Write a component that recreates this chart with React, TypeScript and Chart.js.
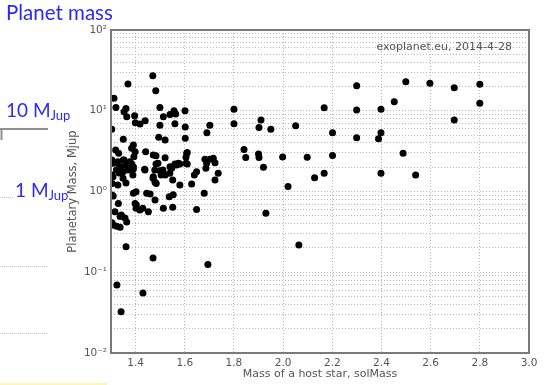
import React, { useEffect, useRef } from "react";
import { Chart, registerables } from "chart.js";

Chart.register(...registerables);

const starMass: number[] = [
  1.369, 1.470, 1.482, 1.312, 1.320, 1.361, 1.353, 1.364, 1.303, 1.396,
  1.399, 1.418, 1.439, 1.499, 1.513, 1.540, 1.556, 1.563, 1.499, 1.560,
  1.601, 1.602, 1.602, 1.350, 1.391, 1.494, 1.520, 1.319, 1.331, 1.384,
  1.398, 1.393, 1.353, 1.441, 1.472, 1.483, 1.520, 1.610, 1.605, 1.483,
  1.384, 1.391, 1.540, 1.560, 1.574, 1.580, 1.610, 1.304, 1.333, 1.682,
  1.702, 1.716, 1.723, 1.800, 1.800, 1.702, 1.690, 1.841, 1.848, 1.900,
  1.902, 1.920, 1.910, 1.902, 1.950, 2.051, 1.998, 2.299, 2.499, 2.597,
  2.696, 2.800, 2.800, 2.452, 2.167, 2.299, 2.398, 2.696, 2.201, 2.299,
  2.388, 2.398, 2.488, 2.098, 2.201, 2.128, 2.167, 2.398, 2.539, 2.020,
  1.930, 2.064, 1.694, 1.471, 1.361, 1.324, 1.341, 1.430, 1.689, 1.686,
  1.736, 1.723, 1.679, 1.648, 1.639, 1.648, 1.628, 1.605, 1.608, 1.580,
  1.567, 1.547, 1.551, 1.551, 1.513, 1.537, 1.553, 1.520, 1.506, 1.499,
  1.472, 1.479, 1.438, 1.391, 1.381, 1.377, 1.350, 1.305, 1.303, 1.309,
  1.330, 1.316, 1.337, 1.357, 1.364, 1.309, 1.323, 1.337, 1.304, 1.391,
  1.402, 1.398, 1.402, 1.429, 1.452, 1.445, 1.459, 1.479, 1.403, 1.417,
  1.308, 1.328, 1.342, 1.322, 1.349, 1.308, 1.349, 1.362, 1.389, 1.437,
  1.491, 1.478, 1.504, 1.471, 1.484, 1.539, 1.511, 1.328, 1.361, 1.333,
  1.369, 1.304, 1.342,
];

const planetMass: number[] = [
  21.4, 27.2, 17.7, 14.3, 11.0, 10.7, 9.7, 8.4, 5.9, 8.7,
  7.1, 6.85, 7.5, 11.0, 8.4, 9.0, 10.0, 9.1, 6.6, 6.9,
  10.0, 6.3, 4.56, 4.43, 3.77, 4.69, 4.34, 3.27, 2.97, 3.43,
  3.11, 2.70, 2.45, 3.11, 2.83, 2.78, 2.62, 3.05, 2.65, 2.19,
  2.19, 2.03, 2.03, 2.19, 2.23, 2.19, 2.19, 2.45, 2.0, 2.5,
  2.5, 2.58, 2.27, 10.4, 6.9, 6.6, 5.35, 3.31, 2.64, 2.91,
  2.64, 2.0, 7.7, 6.2, 5.9, 6.5, 2.67, 20.4, 22.9, 21.9,
  19.3, 21.3, 12.4, 12.9, 10.9, 10.2, 10.4, 7.7, 5.35, 4.64,
  4.51, 5.35, 2.97, 2.65, 2.79, 1.48, 1.68, 1.68, 1.60, 1.15,
  0.537, 0.217, 0.125, 0.150, 0.207, 0.0695, 0.0325, 0.0553, 2.23, 1.94,
  1.68, 1.39, 0.95, 0.60, 1.60, 1.76, 1.24, 2.23, 2.97, 1.20,
  2.13, 1.94, 1.39, 0.64, 0.62, 0.86, 0.91, 1.60, 1.68, 1.81,
  1.52, 1.30, 1.85, 1.90, 2.13, 2.34, 2.45, 1.26, 1.60, 0.88,
  0.71, 0.56, 0.49, 0.47, 0.42, 0.385, 0.37, 0.36, 0.41, 0.95,
  0.99, 0.71, 0.62, 0.62, 0.56, 0.95, 0.93, 0.785, 0.68, 0.59,
  2.23, 2.34, 2.03, 1.85, 1.76, 1.52, 1.46, 2.13, 1.60, 1.88,
  2.23, 1.85, 1.60, 1.46, 1.26, 1.68, 1.85, 1.20, 1.27, 1.69,
  1.85, 0.905, 0.51,
];

const xTickValues: number[] = [1.4, 1.6, 1.8, 2.0, 2.2, 2.4, 2.6, 2.8, 3.0];
const yDecades: number[] = [-2, -1, 0, 1, 2];
const supers: Record<string, string> = { "-": "⁻", "0": "⁰", "1": "¹", "2": "²" };

const xTitle = "Mass of a host star, solMass";
const yTitle = "Planetary Mass, Mjup";
const sourceNote = "exoplanet.eu, 2014-4-28";
const slideTitle = "Planet mass";

const overlay = {
  id: "overlay",
  afterDraw(chart: any) {
    const ctx = chart.ctx as CanvasRenderingContext2D;
    const a = chart.chartArea;
    ctx.save();
    // plot frame
    ctx.strokeStyle = "#7a7a7a";
    ctx.lineWidth = 2;
    ctx.strokeRect(a.left, a.top, a.right - a.left, a.bottom - a.top);

    ctx.fillStyle = "#555";
    ctx.font = '11px "DejaVu Sans"';
    ctx.textAlign = "right";
    ctx.textBaseline = "middle";
    ctx.fillText(sourceNote, a.right - 17, a.top + 17);

    ctx.font = '11px "DejaVu Sans"';
    ctx.textAlign = "center";
    ctx.fillText(xTitle, (a.left + a.right) / 2, 374);

    ctx.save();
    ctx.translate(73, (a.top + a.bottom) / 2);
    ctx.rotate(-Math.PI / 2);
    ctx.font = '11.5px "DejaVu Sans"';
    ctx.fillText(yTitle, 0, 0);
    ctx.restore();

    // slide annotations
    ctx.fillStyle = "#2a2af2";
    ctx.textAlign = "left";
    ctx.textBaseline = "alphabetic";
    ctx.font = '20.5px Lato';
    ctx.fillText(slideTitle, 6, 20);

    const mj = (x: number, y: number, main: string) => {
      ctx.font = '19px Lato';
      ctx.fillText(main, x, y);
      const w = ctx.measureText(main).width;
      ctx.font = '13px Lato';
      ctx.fillText("Jup", x + w, y + 3);
    };
    mj(6, 117, "10 M");
    mj(15, 197, "1 M");

    ctx.strokeStyle = "#909090";
    ctx.lineWidth = 2;
    ctx.beginPath();
    ctx.moveTo(0, 129);
    ctx.lineTo(48, 129);
    ctx.moveTo(1.5, 129);
    ctx.lineTo(1.5, 140);
    ctx.stroke();

    ctx.strokeStyle = "#c4c4c4";
    ctx.lineWidth = 1;
    ctx.setLineDash([1, 1]);
    ctx.beginPath();
    ctx.moveTo(0, 197.5);
    ctx.lineTo(14, 197.5);
    ctx.moveTo(0, 266.5);
    ctx.lineTo(47, 266.5);
    ctx.moveTo(0, 333.5);
    ctx.lineTo(47, 333.5);
    ctx.stroke();
    ctx.setLineDash([]);

    ctx.strokeStyle = "#fdf6b0";
    ctx.lineWidth = 2;
    ctx.beginPath();
    ctx.moveTo(0, 384);
    ctx.lineTo(107, 384);
    ctx.stroke();
    ctx.restore();
  },
};

export default function App() {
  const ref = useRef<HTMLCanvasElement | null>(null);
  useEffect(() => {
    if (!ref.current) return;
    const points = starMass.map((x, i) => ({ x, y: planetMass[i] }));
    const chart = new Chart(ref.current, {
      type: "scatter",
      data: {
        datasets: [
          {
            data: points,
            backgroundColor: "#000",
            borderColor: "#000",
            pointRadius: 3.5,
            pointBorderWidth: 0,
          },
        ],
      },
      options: {
        animation: false,
        responsive: false,
        devicePixelRatio: 1,
        layout: { padding: { left: 0, top: 30, right: 17, bottom: 0 } },
        plugins: { legend: { display: false }, tooltip: { enabled: false } },
        scales: {
          x: {
            type: "linear",
            min: 1.3,
            max: 3.0,
            afterBuildTicks: (s: any) => {
              s.ticks = xTickValues.map((v) => ({ value: v }));
            },
            afterFit: (s: any) => {
              s.height = 32;
            },
            ticks: {
              autoSkip: false,
              maxRotation: 0,
              padding: 4,
              color: "#555",
              font: { family: "DejaVu Sans", size: 10.5 },
              callback: (v: any) => Number(v).toFixed(1),
            },
            grid: { color: "#b8b8b8", drawTicks: false },
            border: { display: false, dash: [1, 2] },
          },
          y: {
            type: "logarithmic",
            min: 0.01,
            max: 100,
            afterBuildTicks: (s: any) => {
              const t: { value: number }[] = [];
              for (let n = -2; n <= 1; n++) {
                for (let k = 1; k <= 9; k++) t.push({ value: k * Math.pow(10, n) });
              }
              t.push({ value: 100 });
              s.ticks = t;
            },
            afterFit: (s: any) => {
              s.width = 111;
            },
            ticks: {
              autoSkip: false,
              padding: 4,
              color: "#555",
              font: { family: "DejaVu Sans", size: 10.5 },
              callback: (v: any) => {
                const l = Math.log10(Number(v));
                const r = Math.round(l);
                if (Math.abs(l - r) > 1e-6 || !yDecades.includes(r)) return "";
                return "10" + String(r).split("").map((c) => supers[c]).join("");
              },
            },
            grid: { color: "#b8b8b8", drawTicks: false },
            border: { display: false, dash: [1, 2] },
          },
        },
      },
      plugins: [overlay],
    });
    return () => chart.destroy();
  }, []);
  return (
    <div style={{ position: "absolute", left: 0, top: 0, width: 546, height: 385, background: "#fff" }}>
      <canvas ref={ref} width={546} height={385} />
    </div>
  );
}
